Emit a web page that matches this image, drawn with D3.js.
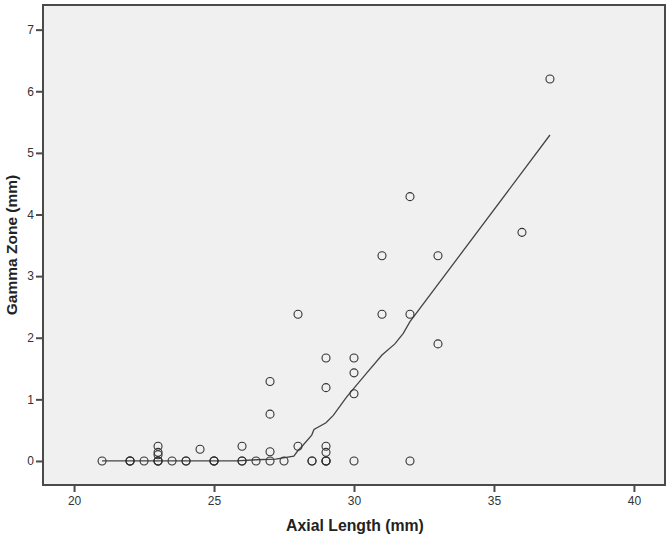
<!DOCTYPE html>
<html>
<head>
<meta charset="utf-8">
<script src="https://cdn.jsdelivr.net/npm/d3@7"></script>
<style>
  body { margin: 0; background: #fff; }
  svg { display: block; font-family: Arial, "Liberation Sans", sans-serif; }
</style>
</head>
<body>
<script>
// scatter points (mm)
var axialLength = [21, 22, 22, 22, 22.5, 23, 23, 23, 23, 23, 23, 23.5, 24, 24, 24.5, 25, 25, 25,
  26, 26, 26, 26.5, 27, 27, 27, 27, 27.5, 28, 28, 28.5, 28.5, 29, 29, 29, 29, 29, 29, 29,
  30, 30, 30, 30, 31, 31, 32, 32, 32, 33, 33, 36, 37];
var gammaZone = [0, 0, 0, 0, 0, 0, 0, 0, 0.1, 0.14, 0.24, 0, 0, 0, 0.19, 0, 0, 0,
  0, 0, 0.24, 0, 0, 0.15, 0.76, 1.29, 0, 0.24, 2.38, 0, 0, 0, 0, 0, 0.14, 0.24, 1.19, 1.67,
  0, 1.09, 1.43, 1.67, 2.38, 3.33, 0, 2.38, 4.29, 1.9, 3.33, 3.71, 6.2];

// fit line
var fitX = [21, 22, 23, 24, 25, 25.8, 26.5, 27.2, 27.85, 28.0, 28.13, 28.49, 28.57, 29.0, 29.26, 29.74, 30.33, 31.0, 31.46, 31.76, 32.0, 37.0];
var fitY = [0, 0, 0, 0, 0, 0, 0.02, 0.03, 0.08, 0.17, 0.23, 0.42, 0.51, 0.62, 0.74, 1.04, 1.36, 1.72, 1.9, 2.07, 2.26, 5.29];

var xTicks = [20, 25, 30, 35, 40];
var yTicks = [0, 1, 2, 3, 4, 5, 6, 7];

var width = 672, height = 539;
var plotL = 43, plotT = 5, plotR = 665, plotB = 485;

var svg = d3.select("body").append("svg")
  .attr("width", width)
  .attr("height", height);

var x = d3.scaleLinear().domain([18.89, 41.11]).range([plotL, plotR]);
var y = d3.scaleLinear().domain([-0.39, 7.4]).range([plotB, plotT]);

svg.append("rect")
  .attr("x", plotL).attr("y", plotT)
  .attr("width", plotR - plotL).attr("height", plotB - plotT)
  .attr("fill", "#f0f0f0")
  .attr("stroke", "#4a4a4a")
  .attr("stroke-width", 2);

var xAxis = svg.append("g")
  .attr("transform", "translate(0," + plotB + ")")
  .call(d3.axisBottom(x).tickValues(xTicks).tickSize(7).tickPadding(4));
var yAxis = svg.append("g")
  .attr("transform", "translate(" + plotL + ",0)")
  .call(d3.axisLeft(y).tickValues(yTicks).tickSize(7).tickPadding(2));

[xAxis, yAxis].forEach(function(g) {
  g.select(".domain").remove();
  g.selectAll("line").attr("stroke", "#4a4a4a").attr("stroke-width", 2);
  g.selectAll("text").attr("fill", "#333").style("font-size", "12px");
});

var line = d3.line()
  .x(function(d, i) { return x(fitX[i]); })
  .y(function(d, i) { return y(fitY[i]); });

svg.append("path")
  .attr("d", line(fitX))
  .attr("fill", "none")
  .attr("stroke", "#444")
  .attr("stroke-width", 1.3);

svg.append("g").selectAll("circle")
  .data(axialLength)
  .join("circle")
  .attr("cx", function(d) { return x(d); })
  .attr("cy", function(d, i) { return y(gammaZone[i]); })
  .attr("r", 4)
  .attr("fill", "none")
  .attr("stroke", "#333")
  .attr("stroke-width", 1.1);

svg.append("text")
  .attr("x", (plotL + plotR) / 2 + 1)
  .attr("y", 531)
  .attr("text-anchor", "middle")
  .attr("font-weight", "bold")
  .attr("font-size", 15.8)
  .attr("fill", "#222")
  .text("Axial Length (mm)");

svg.append("text")
  .attr("transform", "translate(17," + ((plotT + plotB) / 2) + ") rotate(-90)")
  .attr("text-anchor", "middle")
  .attr("font-weight", "bold")
  .attr("font-size", 15.5)
  .attr("fill", "#222")
  .text("Gamma Zone (mm)");
</script>
</body>
</html>
